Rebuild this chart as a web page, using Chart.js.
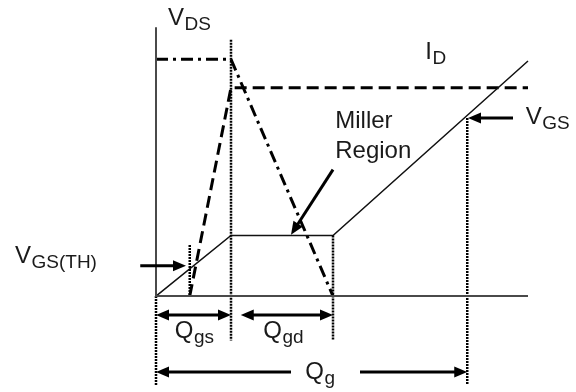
<!DOCTYPE html>
<html>
<head>
<meta charset="utf-8">
<script src="https://cdn.jsdelivr.net/npm/chart.js@4/dist/chart.umd.min.js"></script>
<style>
  html, body { margin: 0; padding: 0; background: #fff; }
  #wrap { width: 576px; height: 392px; }
</style>
</head>
<body>
<div id="wrap"><canvas id="c" width="576" height="392"></canvas></div>
<script>
// ---- Data (charge in nC, signal level in arbitrary volts) ----
const vgsQ = [0, 10, 23.6, 49.6];
const vgsV = [0, 3.4, 3.4, 13.2];
const idQ  = [4.5, 10, 49.6];
const idV  = [0, 11.7, 11.7];
const vdsQ = [0, 10, 23.6];
const vdsV = [13.3, 13.3, 0];

// axes of the diagram
const axisQ = [0, 0, 49.6];
const axisV = [15.1, 0, 0];

// vertical dotted markers: charge, top level, bottom level
const markerQ      = [0, 4.5, 10, 23.6, 41.5];
const markerTop    = [0, 2.87, 14.4, 3.4, 10];
const markerBottom = [-5.0, 0, -2.5, -2.5, -5.0];

// arrows: [fromQ, fromV, toQ, toV, doubleHeaded]
const arrows = [
  [0, -1.07, 10, -1.07, true],        // Qgs
  [11.3, -1.07, 23.6, -1.07, true],   // Qgd
  [18.0, -4.27, 0, -4.27, false],     // Qg left
  [27.2, -4.27, 41.5, -4.27, false],  // Qg right
  [-2.1, 1.7, 4.0, 1.7, false],       // VGS(TH)
  [47.6, 10.0, 41.6, 10.0, false],    // VGS
  [23.6, 7.1, 18.0, 3.45, false]      // Miller region
];

// labels: [main, subscript, q, v]
const labels = [
  ['V', 'DS', 1.6, 15.2],
  ['I', 'D', 35.9, 13.3],
  ['V', 'GS', 49.3, 9.65],
  ['V', 'GS(TH)', -18.8, 1.85],
  ['Q', 'gs', 2.5, -2.36],
  ['Q', 'gd', 14.3, -2.36],
  ['Q', 'g', 19.9, -4.66],
  ['Miller', '', 23.9, 9.44],
  ['Region', '', 23.9, 7.75]
];

const pts = (xs, ys) => xs.map((x, i) => ({ x: x, y: ys[i] }));

const datasets = [];
datasets.push({ data: pts(axisQ, axisV), borderColor: '#4a4a4a', borderWidth: 2 });
markerQ.forEach((q, i) => {
  datasets.push({ data: pts([q, q], [markerTop[i], markerBottom[i]]), borderColor: '#000', borderWidth: 2.5, borderDash: [2, 1] });
});
datasets.push({ data: pts(vgsQ, vgsV), borderColor: '#111', borderWidth: 1.5 });
datasets.push({ data: pts(idQ, idV), borderColor: '#000', borderWidth: 3, borderDash: [12, 6] });
datasets.push({ data: pts(vdsQ, vdsV), borderColor: '#000', borderWidth: 3, borderDash: [12, 5, 3, 5] });

const overlay = {
  id: 'overlay',
  afterDatasetsDraw(chart) {
    const ctx = chart.ctx, xs = chart.scales.x, ys = chart.scales.y;
    const px = q => xs.getPixelForValue(q), py = v => ys.getPixelForValue(v);
    ctx.save();
    const head = (x1, y1, x2, y2) => {
      const a = Math.atan2(y2 - y1, x2 - x1), L = 13, W = 5.5;
      ctx.beginPath();
      ctx.moveTo(x2, y2);
      ctx.lineTo(x2 - L * Math.cos(a) + W * Math.sin(a), y2 - L * Math.sin(a) - W * Math.cos(a));
      ctx.lineTo(x2 - L * Math.cos(a) - W * Math.sin(a), y2 - L * Math.sin(a) + W * Math.cos(a));
      ctx.closePath();
      ctx.fill();
    };
    ctx.strokeStyle = '#000'; ctx.fillStyle = '#000'; ctx.lineWidth = 3;
    arrows.forEach(([q1, v1, q2, v2, dbl]) => {
      const x1 = px(q1), y1 = py(v1), x2 = px(q2), y2 = py(v2);
      const a = Math.atan2(y2 - y1, x2 - x1);
      const sx = dbl ? x1 + 10 * Math.cos(a) : x1, sy = dbl ? y1 + 10 * Math.sin(a) : y1;
      ctx.beginPath();
      ctx.moveTo(sx, sy);
      ctx.lineTo(x2 - 10 * Math.cos(a), y2 - 10 * Math.sin(a));
      ctx.stroke();
      head(x1, y1, x2, y2);
      if (dbl) head(x2, y2, x1, y1);
    });
    ctx.fillStyle = '#1a1a1a';
    ctx.textBaseline = 'alphabetic';
    labels.forEach(([main, sub, q, v]) => {
      const x = px(q), y = py(v);
      ctx.font = '24px "Liberation Sans", Arial, sans-serif';
      ctx.fillText(main, x, y);
      if (sub) {
        const w = ctx.measureText(main).width;
        ctx.font = '19px "Liberation Sans", Arial, sans-serif';
        ctx.fillText(sub, x + w + 0.5, y + 5);
      }
    });
    ctx.restore();
  }
};

new Chart(document.getElementById('c'), {
  type: 'line',
  data: { datasets: datasets.map(d => Object.assign({ pointRadius: 0, fill: false, tension: 0, borderCapStyle: 'butt' }, d)) },
  options: {
    responsive: false,
    animation: false,
    devicePixelRatio: 1,
    layout: { padding: 0 },
    plugins: { legend: { display: false }, tooltip: { enabled: false } },
    scales: {
      x: { type: 'linear', display: false, min: -20.8, max: 56 },
      y: { type: 'linear', display: false, min: -5.39, max: 16.63 }
    }
  },
  plugins: [overlay]
});
</script>
</body>
</html>
